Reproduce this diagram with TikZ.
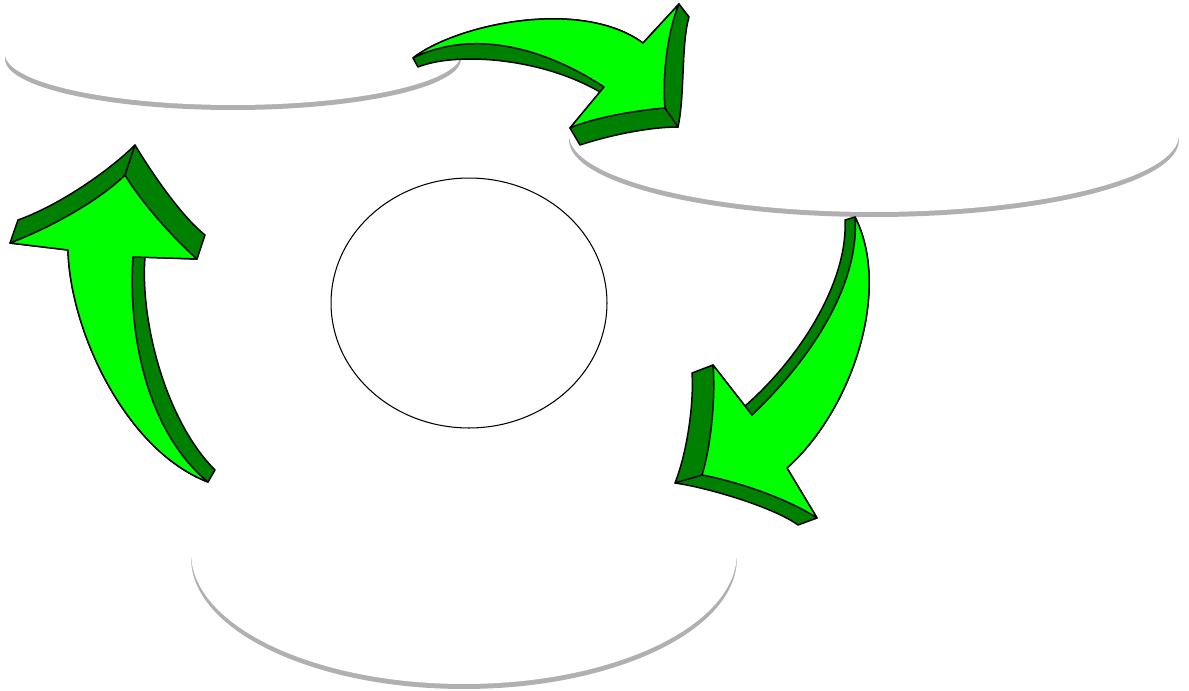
\documentclass[tikz,border=0pt]{standalone}
\usepackage{tikz}
\definecolor{lgreen}{RGB}{0,255,0}
\definecolor{dgreen}{RGB}{0,128,0}
\definecolor{shadowgray}{RGB}{176,176,176}
\tikzset{
  lightface/.style={fill=lgreen,draw=black,line width=0.85pt,line join=round},
  darkface/.style={fill=dgreen,draw=black,line width=0.85pt,line join=round},
  edgeline/.style={draw=black,line width=0.85pt,line cap=round},
  plateshadow/.style={fill=shadowgray,draw=none},
  plate/.style={fill=white,draw=none},
  ring/.style={fill=white,draw=black,line width=0.6pt}
}
\begin{document}
\begin{tikzpicture}[x=0.02cm,y=-0.02cm]
\useasboundingbox (0,0) rectangle (1189,690);
% plates
\fill[plateshadow] (233,59) ellipse [x radius=4.56cm, y radius=1.02cm];
\fill[plate] (233,54) ellipse [x radius=4.56cm, y radius=1.02cm];
\fill[plateshadow] (874,140) ellipse [x radius=6.10cm, y radius=1.54cm];
\fill[plate] (874,135) ellipse [x radius=6.10cm, y radius=1.54cm];
\fill[plateshadow] (464,558) ellipse [x radius=5.46cm, y radius=2.62cm];
\fill[plate] (464,553) ellipse [x radius=5.46cm, y radius=2.62cm];
% centre circle
\draw[ring] (469,303) ellipse [x radius=2.76cm, y radius=2.50cm];

% ---------- top arrow ----------
\coordinate (tA) at (413,58);
\coordinate (tAp) at (418,67);
\coordinate (tB) at (643,43);
\coordinate (tT) at (679,4);
\coordinate (tTp) at (689,17);
\coordinate (tR) at (665,108);
\coordinate (tRp) at (678,127);
\coordinate (tL) at (570,128);
\coordinate (tLp) at (580,145);
\coordinate (tN) at (604,87);
\coordinate (tP) at (600,92);
\path[darkface] (tA) -- (tAp) .. controls (455,52) and (540,57) .. (tP)
  -- (tL) -- (tLp) .. controls (610,135) and (650,127) .. (tRp)
  .. controls (685,95) and (681,45) .. (tTp) -- (tT) -- (tB)
  .. controls (580,-3) and (455,25) .. (tA) -- cycle;
\path[lightface] (tA) .. controls (455,25) and (580,-3) .. (tB) -- (tT)
  .. controls (668,30) and (662,75) .. (tR)
  .. controls (640,110) and (595,117) .. (tL) -- (tN)
  .. controls (540,45) and (470,30) .. (tA) -- cycle;
\draw[edgeline] (tR) -- (tRp);

% ---------- left arrow ----------
\coordinate (lT) at (135,145);
\coordinate (lH) at (125,175);
\coordinate (lTL) at (18,220);
\coordinate (lBL) at (10,243);
\coordinate (lS1) at (68,250);
\coordinate (lE) at (208,482);
\coordinate (lEp) at (215,470);
\coordinate (lS2) at (133,257);
\coordinate (lQ) at (145,257);
\coordinate (lBR) at (197,259);
\coordinate (lBRp) at (205,235);
\path[darkface] (lT) .. controls (110,170) and (60,205) .. (lTL) -- (lBL) -- (lS1)
  .. controls (70,330) and (125,450) .. (lE) -- (lEp)
  .. controls (165,420) and (140,320) .. (lQ) -- (lBR) -- (lBRp)
  .. controls (180,215) and (150,170) .. (lT) -- cycle;
\path[lightface] (lH) .. controls (100,200) and (50,228) .. (lBL) -- (lS1)
  .. controls (70,330) and (125,450) .. (lE)
  .. controls (145,430) and (128,330) .. (lS2) -- (lBR)
  .. controls (170,235) and (140,200) .. (lH) -- cycle;
\draw[edgeline] (lH) -- (lT);

% ---------- right arrow ----------
\coordinate (rU) at (855,217);
\coordinate (rUp) at (845,220);
\coordinate (rN) at (752,415);
\coordinate (rP) at (745,406);
\coordinate (rHL) at (713,365);
\coordinate (rHLp) at (692,373);
\coordinate (rC) at (702,475);
\coordinate (rCL) at (675,483);
\coordinate (rHR) at (817,518);
\coordinate (rHRp) at (798,525);
\coordinate (rRB) at (787,468);
\path[darkface] (rUp) -- (rU) .. controls (892,290) and (852,410) .. (rRB)
  -- (rHR) -- (rHRp) .. controls (775,508) and (710,488) .. (rCL)
  .. controls (688,450) and (694,400) .. (rHLp) -- (rHL) -- (rP)
  .. controls (800,358) and (848,282) .. (rUp) -- cycle;
\path[lightface] (rU) .. controls (860,285) and (810,360) .. (rN) -- (rHL)
  .. controls (716,400) and (710,450) .. (rC)
  .. controls (740,482) and (790,500) .. (rHR) -- (rRB)
  .. controls (852,410) and (892,290) .. (rU) -- cycle;
\draw[edgeline] (rC) -- (rCL);
\end{tikzpicture}
\end{document}
